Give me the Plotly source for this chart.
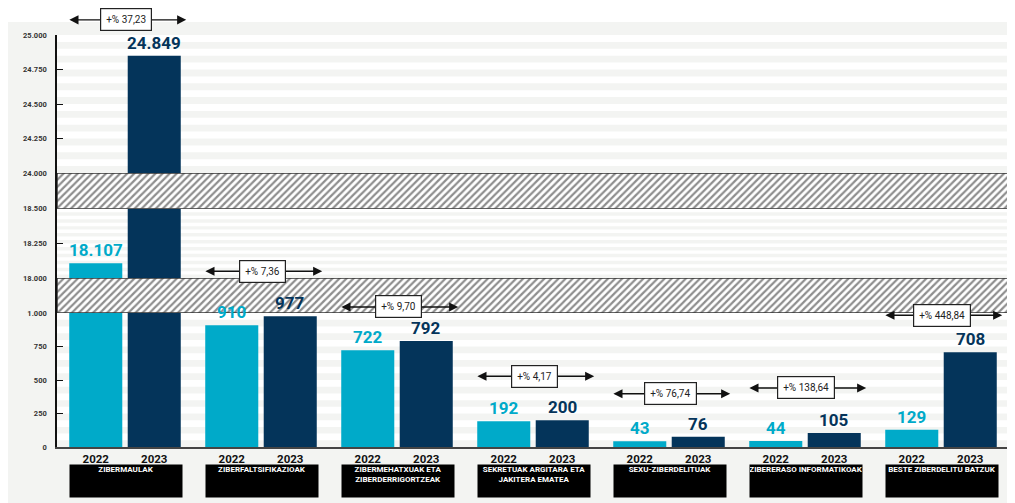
import plotly.graph_objects as go
import numpy as np

# ---------------- data ----------------
categories = [
    "ZIBERMAULAK",
    "ZIBERFALTSIFIKAZIOAK",
    "ZIBERMEHATXUAK ETA<br>ZIBERDERRIGORTZEAK",
    "SEKRETUAK ARGITARA ETA<br>JAKITERA EMATEA",
    "SEXU-ZIBERDELITUAK",
    "ZIBERERASO INFORMATIKOAK",
    "BESTE ZIBERDELITU BATZUK",
]
years = ["2022", "2023"]
values_2022 = [18107, 910, 722, 192, 43, 44, 129]
values_2023 = [24849, 977, 792, 200, 76, 105, 708]

ticks_bottom = [0, 250, 500, 750, 1000]
ticks_middle = [18000, 18250, 18500]
ticks_top = [24000, 24250, 24500, 24750, 25000]

# ---------------- style / layout ----------------
FONT = "Roboto, Liberation Sans, sans-serif"
C2022 = "#00aac9"
C2023 = "#04345a"
BG = "#f3f4f2"
W, H = 1015, 495
ML, MR, MT, MB = 49, 0, 27, 56
PW, PH = W - ML - MR, H - MT - MB
XR = [-0.5, -0.5 + PW / 136.0]
BAR_W = 0.39
OFFS = [-0.41, 0.02]
arrow_shift = [36, 45, 34, 44, 43, 45, 37]

def fmt(v):
    return f"{v:,}".replace(",", ".")

segments = [
    # axis id, range, domain, ticks, stripe step
    ("y", [0, 1000], [0.0, 0.325], ticks_bottom, 100),
    ("y2", [18000, 18500], [0.410, 0.578], ticks_middle, 50),
    ("y3", [24000, 25000], [0.665, 1.0], ticks_top, 100),
]
bands = [("y4", [0.325, 0.410]), ("y5", [0.578, 0.665])]

fig = go.Figure()

series = [values_2022, values_2023]
colors = [C2022, C2023]
idx = list(range(len(categories)))

for ax_id, rng, dom, tks, step in segments:
    for k, vals in enumerate(series):
        fig.add_trace(go.Bar(
            x=idx, y=vals, offset=OFFS[k], width=BAR_W,
            marker=dict(color=colors[k], line=dict(width=0)),
            yaxis=ax_id, xaxis="x", showlegend=False, hoverinfo="skip",
        ))
    # background stripes
    for v in np.arange(rng[0], rng[1], step):
        fig.add_shape(type="rect", xref="x", yref=ax_id,
                      x0=XR[0], x1=XR[1], y0=v + step * 0.5, y1=v + step,
                      fillcolor="white", line_width=0, layer="below")

# hatched break bands
for ax_id, dom in bands:
    fig.add_trace(go.Scatter(
        x=[XR[0], XR[1], XR[1], XR[0], XR[0]], y=[0, 0, 1, 1, 0],
        xaxis="x", yaxis=ax_id, mode="lines", fill="toself",
        line=dict(color="#333", width=1.5),
        fillcolor="white",
        fillpattern=dict(shape="/", fgcolor="#1e1e1e", bgcolor="white", size=5, solidity=0.45),
        showlegend=False, hoverinfo="skip",
    ))

def axis_for(v):
    for ax_id, rng, dom, tks, step in segments:
        if rng[0] <= v <= rng[1]:
            return ax_id
    return "y"

annotations = []
# value labels
for k, vals in enumerate(series):
    for i, v in enumerate(vals):
        annotations.append(dict(
            x=i + OFFS[k] + BAR_W / 2, y=v, xref="x", yref=axis_for(v),
            text=fmt(v), showarrow=False, yanchor="bottom", yshift=1,
            font=dict(family=FONT, size=17, color=colors[k], weight=700),
        ))

# percent change arrows and boxes
for i in idx:
    a, b = values_2022[i], values_2023[i]
    pct = (b - a) / a * 100
    top = max(a, b)
    yr = axis_for(top)
    annotations.append(dict(
        x=i + 0.45, y=top, xref="x", yref=yr, ax=i - 0.42, ay=0, axref="x", ayref="pixel",
        text="", showarrow=True, arrowside="end+start", arrowhead=2, startarrowhead=2,
        arrowsize=1.3, startarrowsize=1.3, arrowwidth=1.4, arrowcolor="#111",
        yshift=arrow_shift[i],
    ))
    annotations.append(dict(
        x=i + 0.01, y=top, xref="x", yref=yr, showarrow=False,
        text=("+% " + f"{pct:.2f}".replace(".", ",")),
        font=dict(family=FONT, size=10, color="#222"),
        bgcolor="white", bordercolor="#222", borderwidth=1.2, borderpad=5,
        yshift=arrow_shift[i], yanchor="middle",
    ))
    # category boxes
    annotations.append(dict(
        x=i + 0.01, y=-17 / PH, xref="x", yref="paper", yanchor="top",
        text=categories[i], showarrow=False, width=112, height=32,
        valign="top", align="center", bgcolor="black", borderpad=0,
        font=dict(family=FONT, size=8, color="white", weight=700),
    ))

# white strip at the top of the figure
fig.add_shape(type="rect", xref="paper", yref="paper",
              x0=-ML / PW, x1=1, y0=1 + (MT - 14) / PH, y1=1 + MT / PH,
              fillcolor="white", line_width=0, layer="below")

layout_axes = {}
for n, (ax_id, rng, dom, tks, step) in enumerate(segments):
    key = "yaxis" if ax_id == "y" else "yaxis" + ax_id[1:]
    layout_axes[key] = dict(
        domain=dom, range=rng, anchor="x",
        tickvals=tks, ticktext=[fmt(t) for t in tks],
        ticks="inside", ticklen=6, tickwidth=1.2, tickcolor="#111",
        showline=True, linecolor="#111", linewidth=1.5,
        showgrid=False, zeroline=False, ticklabelstandoff=7,
        tickfont=dict(family=FONT, size=7.5, color="#333", weight=700),
        fixedrange=True,
    )
for ax_id, dom in bands:
    key = "yaxis" + ax_id[1:]
    layout_axes[key] = dict(
        domain=dom, range=[0, 1], anchor="x", showticklabels=False,
        ticks="", showline=True, linecolor="#111", linewidth=1.5,
        showgrid=False, zeroline=False, fixedrange=True,
    )

tickvals_x, ticktext_x = [], []
for i in idx:
    for k, yname in enumerate(years):
        tickvals_x.append(i + OFFS[k] + BAR_W / 2)
        ticktext_x.append(yname)

fig.update_layout(
    width=W, height=H,
    margin=dict(l=ML, r=MR, t=MT, b=MB, pad=0),
    paper_bgcolor=BG, plot_bgcolor=BG,
    barmode="overlay", showlegend=False,
    xaxis=dict(
        range=XR, anchor="y", tickvals=tickvals_x, ticktext=ticktext_x,
        ticks="", showline=True, linecolor="#444", linewidth=1.5,
        showgrid=False, zeroline=False, fixedrange=True,
        tickfont=dict(family=FONT, size=11.5, color="#111", weight=700),
    ),
    annotations=annotations,
    **layout_axes,
)

fig.write_html("out.html")
